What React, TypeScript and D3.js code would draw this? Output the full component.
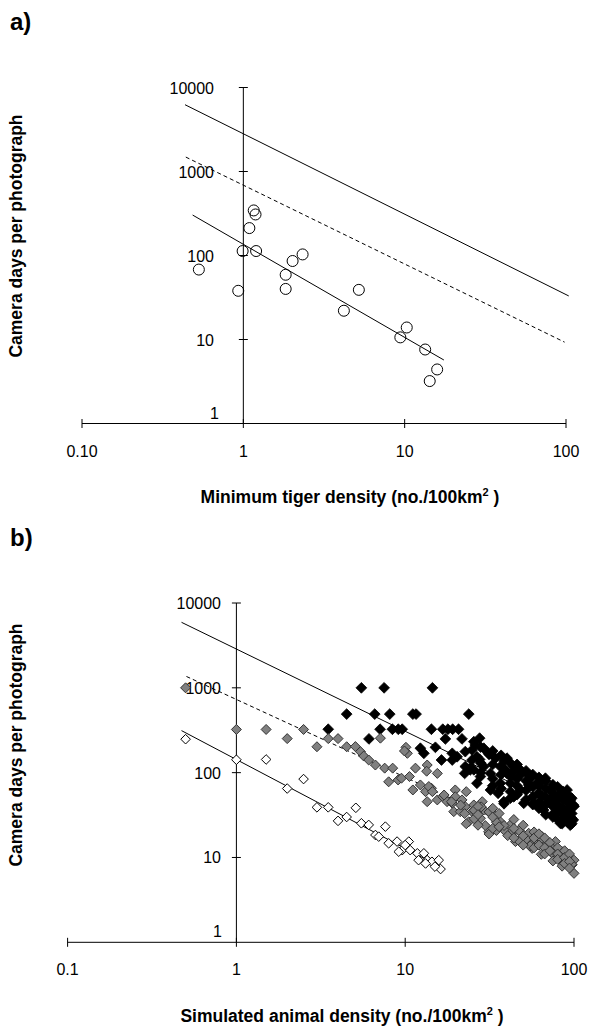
import React from "react";
import * as d3 from "d3";

// ---------- shared tick labels ----------
const yTickValues = [1, 10, 100, 1000, 10000];
const yTickLabels = ["1", "10", "100", "1000", "10000"];
const xTickValues = [0.1, 1, 10, 100];
const xTickLabelsA = ["0.10", "1", "10", "100"];
const xTickLabelsB = ["0.1", "1", "10", "100"];

// ---------- panel a: observed tiger data ----------
const tigerDensity = [0.53, 0.93, 0.99, 1.09, 1.16, 1.19, 1.2, 1.83, 1.83, 2.02, 2.33, 4.2, 5.2, 9.4, 10.3, 13.4, 14.3, 15.9];
const tigerDays = [68, 38, 113, 212, 344, 308, 113, 59, 40, 86, 103, 22, 39, 10.6, 13.9, 7.6, 3.2, 4.4];

// model lines (endpoints) for panel a
const lineA_upper = [[0.435, 6240], [104, 33]];
const lineA_dashed = [[0.44, 1485], [98, 9.3]];
const lineA_lower = [[0.485, 303], [17.5, 5.7]];

// ---------- panel b: simulated data ----------
const whiteX = [0.5, 1, 1.5, 2, 2.5, 3, 3.5, 4, 4.5, 5.1, 5.5, 6.08, 7.63, 6.66, 6.97, 7.98, 8.95, 9.6, 10.5, 10, 10.7, 11.8, 12.9, 12, 13.5, 14.4, 15.8, 16.2, 15, 13.2, 9.16];
const whiteY = [248, 142, 143, 65, 84, 39, 39, 27, 30, 38.5, 25.3, 24.2, 23.1, 18.4, 17.6, 14.7, 15.4, 12.2, 15.4, 14, 12.2, 11.2, 11.2, 9.3, 9.3, 8.9, 9.3, 7.3, 7.8, 8.5, 11.7];

const grayX = [0.5, 1, 1.5, 2, 2.5, 3, 3.5, 4, 4.5, 5.07, 5.43, 5.68, 6.08, 6.66, 7.13, 7.56, 8.43, 7.98, 9.08, 9.5, 10.1, 10.3, 11.5, 10.6, 11.1, 12.3, 13.5, 14.3, 13.2, 15.5, 15.5, 13.5, 16.7, 17.7, 19.8, 19, 19.8, 21.7, 22.7, 19.4, 23.8, 24.9, 21.2,
  28.6, 25.5, 26, 29.2, 32.7, 27.9, 31.2, 36.6, 42, 38.4, 45, 48.1, 53.9, 60.4, 56.5, 64.7, 69.3, 77.6, 74.1, 85, 91, 100, 97.5, 100, 83, 75.9,
  9.9, 13.4, 13.8, 14.5, 17, 18.8, 23, 21.3, 23, 25.6, 28.2, 31.4, 31.4, 34.7, 38.5, 42.6, 47.1, 52.3, 57.9, 64, 71, 78.6, 87.3, 97, 85, 75, 64, 55, 47, 40.5, 34.7, 29.8, 25.6, 22.5,
  27, 27, 27, 33, 33, 33, 36, 36, 44, 44, 44, 50, 50, 50, 58, 58, 58, 62, 62, 67, 67, 67, 72, 72, 80, 80, 80, 88, 88, 88, 94, 94, 94];
const grayY = [1000, 323, 323, 252, 323, 202, 252, 252, 202, 203, 177, 157, 141, 123, 255, 113, 113, 78, 82, 86, 199, 169, 113, 90, 62.5, 71.6, 123, 65.5, 59.7, 98, 47.7, 45.5, 52, 45.5, 62.5, 43.6, 52, 47.7, 39.7, 34.7, 26.4, 34.7, 34.7,
  45.5, 41.6, 34.7, 36.3, 33.2, 29, 20.1, 26.4, 24.2, 21.1, 15.4, 20.1, 19.3, 16.1, 12.8, 17.6, 14.7, 15.4, 12.8, 11.7, 10.2, 9.3, 8.2, 6.5, 9.3, 10.7,
  180, 104, 68.6, 59.7, 54.5, 45.4, 59.7, 41.4, 25, 36, 39.5, 34.4, 18.9, 26.1, 23.8, 18.9, 20.8, 16.5, 15.1, 16.5, 12.5, 11.4, 10.4, 8.3, 7.9, 9.1, 10.9, 13.7, 15.8, 18.1, 20.8, 23.8, 28.6, 32.9,
  40, 32, 24, 38, 30, 22, 33, 23, 28, 22, 17, 24, 18, 14, 20, 17, 13, 19, 14, 17, 13, 11, 15, 12, 13, 11, 9.5, 12, 10, 8.5, 11, 9, 7.5];

const blackX = [3.5, 4.5, 5.5, 7.5, 14.5, 6.6, 8.1, 11.1, 11.6, 23.8, 7.1, 8.4, 9.1, 9.6, 6.1, 14.3, 16.7, 17.9, 19.1, 20.7, 17.3, 21.7, 12.3, 15.1, 12.9, 19, 16.4, 20.3, 22.7, 24.9, 22.7, 24.3, 22.5, 19, 25.5,
  27.6, 26, 29.2, 31.2, 24.9, 26.6, 34.2, 40.1, 36.6, 44, 48.1, 39.2, 29.2, 25.5, 32, 53.9, 67.7,
  27.9, 40.1, 48.1, 38.4, 44, 48.1, 53.9, 60.4, 50.4, 64.7, 72.4, 72.4, 83, 91, 95.2, 100, 91, 83, 99, 75.9, 66, 57.7,
  31.4, 27.6, 38.5, 43.8, 55.2, 64.3, 85.3, 99.5, 97, 85, 64, 38.5, 24.3, 32, 36.6, 42, 35.5, 26.6, 95,
  28, 28, 28, 33, 33, 33, 33, 37, 37, 37, 42, 42, 42, 42, 46, 46, 46, 46, 52, 52, 52, 52, 57, 57, 57, 57,
  62, 62, 62, 62, 62, 68, 68, 68, 68, 68, 75, 75, 75, 75, 75, 80, 80, 80, 80, 80, 86, 86, 86, 86, 86, 92, 92, 92, 92, 92, 97, 97, 97, 97];
const blackY = [325, 490, 1000, 1000, 1000, 490, 490, 490, 490, 490, 325, 325, 325, 325, 250, 325, 325, 325, 325, 325, 250, 250, 194, 199, 169, 169, 141, 154, 177, 141, 118, 108, 98, 141, 232,
  255, 212, 194, 169, 185, 154, 148, 148, 118, 118, 108, 108, 118, 108, 98, 94, 86,
  90, 98, 94, 45.5, 52, 62.5, 71.6, 75, 43.6, 52, 62.5, 47.7, 54.6, 62.5, 47.7, 40, 30.3, 25.3, 27.7, 33.2, 36.3, 43.6,
  164, 143, 137, 104, 86, 79, 54.5, 41.4, 25, 25, 41, 43, 114, 62.5, 75, 75, 57, 75, 24,
  200, 130, 100, 180, 125, 85, 70, 160, 95, 65, 130, 90, 60, 50, 125, 85, 70, 55, 105, 80, 62, 48, 95, 68, 52, 42,
  88, 70, 58, 45, 38, 80, 65, 52, 42, 32, 72, 58, 48, 40, 30, 68, 50, 42, 35, 28, 60, 48, 38, 32, 27, 55, 44, 36, 30, 26, 50, 40, 33, 29];

// model lines for panel b
const lineB_upper = [[0.473, 5920], [100, 33]];
const lineB_dashed = [[0.506, 1361], [100, 10.7]];
const lineB_lower = [[0.473, 313], [16.5, 7.55]];

const FONT = "'Liberation Sans', Arial, Helvetica, sans-serif";

type PanelProps = {
  xRange: [number, number];
  yRange: [number, number];
  xTickLabels: string[];
  yLabelRight: number;
  oneLabelRight: number;
  xTitle: string;
  xTitleX: number;
  xTitleY: number;
  yTitleY: number;
  panelLabel: string;
  panelLabelY: number;
  children: (x: d3.ScaleLogarithmic<number, number>, y: d3.ScaleLogarithmic<number, number>) => React.ReactNode;
};

function Panel(p: PanelProps) {
  const x = d3.scaleLog().domain([0.1, 100]).range(p.xRange);
  const y = d3.scaleLog().domain([1, 10000]).range(p.yRange);
  const x0 = x(1);
  const yBase = y(1);
  const t = 4.5;
  return (
    <g>
      <text x={10} y={p.panelLabelY} fontFamily={FONT} fontWeight="bold" fontSize={24}>{p.panelLabel}</text>
      <line x1={x(0.1)} x2={x(100)} y1={yBase} y2={yBase} stroke="#000" strokeWidth={1} />
      <line x1={x0} x2={x0} y1={y(10000)} y2={yBase} stroke="#000" strokeWidth={1} />
      {xTickValues.map((v) => (
        <line key={"xt" + v} x1={x(v)} x2={x(v)} y1={yBase - t} y2={yBase + t} stroke="#000" strokeWidth={1} />
      ))}
      {yTickValues.slice(1).map((v) => (
        <line key={"yt" + v} x1={x0 - t} x2={x0 + t} y1={y(v)} y2={y(v)} stroke="#000" strokeWidth={1} />
      ))}
      {xTickValues.map((v, i) => (
        <text key={"xl" + v} x={x(v)} y={yBase + 33} textAnchor="middle" fontFamily={FONT} fontSize={16}>{p.xTickLabels[i]}</text>
      ))}
      {yTickValues.map((v, i) => (
        <text key={"yl" + v}
          x={i === 0 ? p.oneLabelRight : p.yLabelRight}
          y={i === 0 ? y(v) - 5 : y(v) + 6}
          textAnchor="end" fontFamily={FONT} fontSize={16}>{yTickLabels[i]}</text>
      ))}
      <text x={p.xTitleX} y={p.xTitleY} textAnchor="middle" fontFamily={FONT} fontWeight="bold" fontSize={17.5}>
        {p.xTitle}<tspan fontSize={11} dy={-7}>2</tspan><tspan dy={7}>{" )"}</tspan>
      </text>
      <text transform={`translate(22,${p.yTitleY}) rotate(-90)`} textAnchor="middle" fontFamily={FONT} fontWeight="bold" fontSize={17.5}>
        Camera days per photograph
      </text>
      {p.children(x, y)}
    </g>
  );
}

function seg(x: any, y: any, pts: number[][]) {
  const l = d3.line<number[]>().x((d) => x(d[0])).y((d) => y(d[1]));
  return l(pts) || "";
}

function diamond(cx: number, cy: number, s: number) {
  return `M${cx},${cy - s}L${cx + s},${cy}L${cx},${cy + s}L${cx - s},${cy}Z`;
}

export default function App() {
  return (
    <svg width={590} height={1031} style={{ position: "absolute", left: 0, top: 0, background: "#fff" }}>
      <rect x={0} y={0} width={590} height={1031} fill="#fff" />
      <Panel
        xRange={[82, 566]}
        yRange={[423.5, 87.5]}
        xTickLabels={xTickLabelsA}
        yLabelRight={214}
        oneLabelRight={219}
        xTitle="Minimum tiger density (no./100km"
        xTitleX={350}
        xTitleY={503}
        yTitleY={236}
        panelLabel="a)"
        panelLabelY={30}
      >
        {(x, y) => (
          <g>
            <path d={seg(x, y, lineA_upper)} stroke="#000" strokeWidth={1} fill="none" />
            <path d={seg(x, y, lineA_dashed)} stroke="#000" strokeWidth={1} fill="none" strokeDasharray="4,3" />
            <path d={seg(x, y, lineA_lower)} stroke="#000" strokeWidth={1} fill="none" />
            {tigerDensity.map((d, i) => (
              <circle key={i} cx={x(d)} cy={y(tigerDays[i])} r={5.5} fill="none" stroke="#000" strokeWidth={1} />
            ))}
          </g>
        )}
      </Panel>
      <Panel
        xRange={[67.6, 574]}
        yRange={[942.3, 603]}
        xTickLabels={xTickLabelsB}
        yLabelRight={221}
        oneLabelRight={222}
        xTitle="Simulated animal density (no./100km"
        xTitleX={342}
        xTitleY={1022}
        yTitleY={745}
        panelLabel="b)"
        panelLabelY={546}
      >
        {(x, y) => (
          <g>
            <path d={seg(x, y, lineB_upper)} stroke="#000" strokeWidth={1} fill="none" />
            <path d={seg(x, y, lineB_dashed)} stroke="#000" strokeWidth={1} fill="none" strokeDasharray="4,3" />
            <path d={seg(x, y, lineB_lower)} stroke="#000" strokeWidth={1} fill="none" />
            {blackX.map((d, i) => (
              <path key={"k" + i} d={diamond(x(d), y(blackY[i]), 5.4)} fill="#000" stroke="#000" strokeWidth={0.8} />
            ))}
            {grayX.map((d, i) => (
              <path key={"g" + i} d={diamond(x(d), y(grayY[i]), 5)} fill="#808080" stroke="#333" strokeWidth={1} />
            ))}
            {whiteX.map((d, i) => (
              <path key={"w" + i} d={diamond(x(d), y(whiteY[i]), 4.8)} fill="#fff" stroke="#000" strokeWidth={1} />
            ))}
          </g>
        )}
      </Panel>
    </svg>
  );
}
